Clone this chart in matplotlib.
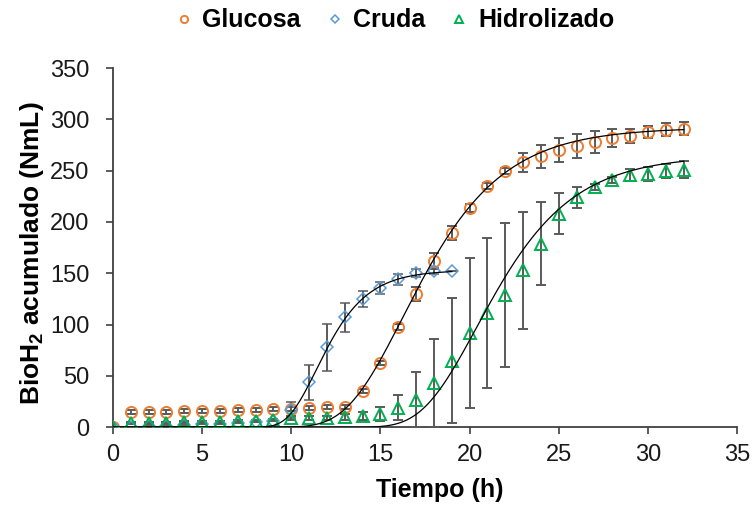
import numpy as np
import matplotlib
matplotlib.use("Agg")
import matplotlib.pyplot as plt

plt.rcParams['font.family'] = ['Liberation Sans', 'DejaVu Sans']
plt.rcParams['mathtext.fontset'] = 'custom'
plt.rcParams['mathtext.rm'] = 'Liberation Sans'
plt.rcParams['mathtext.bf'] = 'Liberation Sans:bold'

# tiempo de muestreo (h)
t_glu = np.arange(0, 33)
t_cru = np.arange(0, 20)
t_hid = np.arange(0, 33)

glucosa = [0, 15, 15, 15, 16, 16, 16, 17, 17, 18, 18, 19, 20, 20, 35, 63, 98, 130,
           162, 189, 214, 235, 250, 258, 264, 270, 274, 278, 282, 284, 288, 290, 291]
glucosa_err = [0, 2, 2, 2, 2, 2, 2, 2, 2, 2, 2, 2, 2, 2, 2, 2, 3, 7,
               8, 7, 4, 3, 3, 9, 11, 12, 12, 11, 9, 7, 6, 6, 6]

cruda = [0, 0, 1, 1, 2, 3, 3, 4, 5, 6, 17, 44, 78, 107, 125, 136, 144, 150, 152, 152]
cruda_err = [0, 0, 0, 0, 0, 0, 0, 0, 0, 0, 8, 17, 23, 14, 8, 6, 5, 4, 3, 0]

hidrolizado = [0, 4, 4, 4, 5, 5, 5, 6, 6, 7, 9, 9, 9, 10, 11, 13, 19, 27,
               43, 65, 92, 111, 129, 153, 179, 208, 224, 234, 241, 246, 247, 250, 251]
hidrolizado_err = [0, 1, 1, 1, 1, 1, 1, 1, 1, 1, 2, 2, 2, 3, 4, 7, 12, 27,
                   43, 61, 73, 73, 70, 57, 40, 20, 10, 3, 3, 6, 7, 7, 8]

# parametros Gompertz modificado: P (NmL), Rm (NmL/h), lambda (h)
gomp_glu = (292, 34, 13.1)
gomp_cru = (153, 35, 9.8)
gomp_hid = (265, 32, 17.35)


def gompertz(t, P, Rm, lam):
    return P * np.exp(-np.exp(Rm * np.e / P * (lam - t) + 1))


fig = plt.figure(figsize=(7.53, 5.08), dpi=100)
ax = fig.add_axes([0.150, 0.159, 0.829, 0.707])

ecol = '#5a5a5a'
eb = dict(ecolor=ecol, elinewidth=1.4, capsize=3.6, capthick=1.4, zorder=3)
ax.errorbar(t_glu, glucosa, yerr=glucosa_err, fmt='o', ms=8, mfc='none', mec='#ED7D31',
            mew=1.4, label='Glucosa', **eb)
ax.errorbar(t_cru, cruda, yerr=cruda_err, fmt='D', ms=6, mfc='none', mec='#5B9BD5',
            mew=1.1, label='Cruda', **eb)
ax.errorbar(t_hid, hidrolizado, yerr=hidrolizado_err, fmt='^', ms=8, mfc='none', mec='#00B050',
            mew=1.4, label='Hidrolizado', **eb)

tt = np.linspace(0, 32, 400)
ax.plot(tt, gompertz(tt, *gomp_glu), color='black', lw=0.9, zorder=4)
tc = np.linspace(0, 19, 300)
ax.plot(tc, gompertz(tc, *gomp_cru), color='black', lw=0.9, zorder=4)
ax.plot(tt, gompertz(tt, *gomp_hid), color='black', lw=0.9, zorder=4)

ax.set_xlim(0, 35)
ax.set_ylim(0, 350)
ax.set_xticks(range(0, 36, 5))
ax.set_yticks(range(0, 351, 50))
ax.tick_params(labelsize=17, length=5, width=1.2, color='#404040', direction='out',
               labelcolor='#1a1a1a')
ax.tick_params(axis='x', pad=7)
ax.tick_params(axis='y', pad=12)
for s in ['top', 'right']:
    ax.spines[s].set_visible(False)
for s in ['left', 'bottom']:
    ax.spines[s].set_linewidth(1.3)
    ax.spines[s].set_color('#404040')

ax.set_xlabel('Tiempo (h)', fontsize=18, fontweight='bold')
ax.set_ylabel(r'BioH$_{\mathbf{2}}$ acumulado (NmL)', fontsize=19, fontweight='bold')
ax.xaxis.set_label_coords(0.524, -0.142)
ax.yaxis.set_label_coords(-0.107, 0.485)

h, l = ax.get_legend_handles_labels()
h = [x[0] for x in h]
fig.legend(h, l, loc='center', bbox_to_anchor=(0.525, 0.960), ncol=3, frameon=False,
           prop={'size': 18, 'weight': 'bold'}, markerscale=0.65, handlelength=0.6,
           handletextpad=0.45, columnspacing=1.05)

fig.savefig('out.png', dpi=100)
